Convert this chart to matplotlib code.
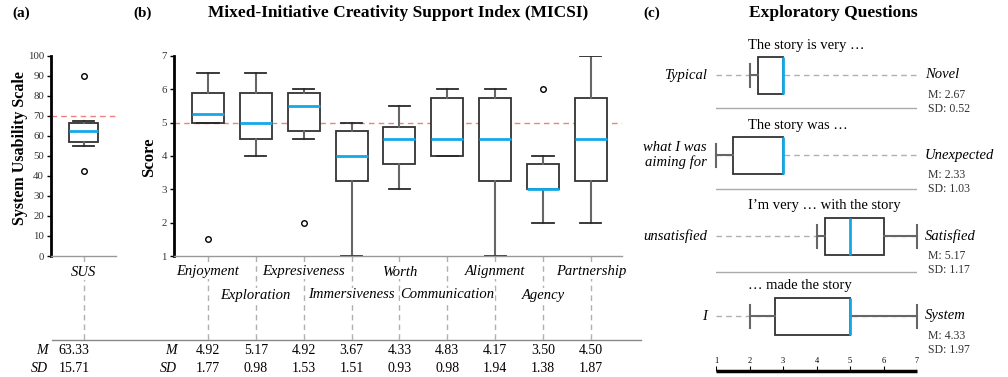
import matplotlib
matplotlib.use('Agg')
import matplotlib.pyplot as plt
from matplotlib.lines import Line2D

plt.rcParams['font.family'] = ['Liberation Serif', 'DejaVu Serif']

W, H = 1008, 377

# (a) System Usability Scale
sus_label = 'SUS'
sus_stats = dict(whislo=55, q1=57, med=62.5, q3=66.5, whishi=67.5, fliers=[90, 42.5])
sus_mean = '63.33'
sus_sd = '15.71'

# (b) MICSI
micsi_labels = ['Enjoyment', 'Exploration', 'Expresiveness', 'Immersiveness', 'Worth',
                'Communication', 'Alignment', 'Agency', 'Partnership']
micsi_whislo = [5.0, 4.0, 4.5, 1.0, 3.0, 4.0, 1.0, 2.0, 2.0]
micsi_q1 = [5.0, 4.5, 4.75, 3.25, 3.75, 4.0, 3.25, 3.0, 3.25]
micsi_med = [5.25, 5.0, 5.5, 4.0, 4.5, 4.5, 4.5, 3.0, 4.5]
micsi_q3 = [5.88, 5.88, 5.88, 4.75, 4.88, 5.75, 5.75, 3.75, 5.75]
micsi_whishi = [6.5, 6.5, 6.0, 5.0, 5.5, 6.0, 6.0, 4.0, 7.0]
micsi_fliers = [[1.5], [], [2.0], [], [], [], [], [6.0], []]
micsi_mean = ['4.92', '5.17', '4.92', '3.67', '4.33', '4.83', '4.17', '3.50', '4.50']
micsi_sd = ['1.77', '0.98', '1.53', '1.51', '0.93', '0.98', '1.94', '1.38', '1.87']

# (c) Exploratory questions
eq_prompts = ['The story is very \u2026', 'The story was \u2026',
              'I\u2019m very \u2026 with the story', '\u2026 made the story']
eq_left = ['Typical', 'what I was\naiming for', 'unsatisfied', 'I']
eq_right = ['Novel', 'Unexpected', 'Satisfied', 'System']
eq_whislo = [2, 1, 4, 2]
eq_q1 = [2.25, 1.5, 4.25, 2.75]
eq_med = [3, 3, 5, 5]
eq_q3 = [3, 3, 6, 5]
eq_whishi = [3, 3, 7, 7]
eq_mean = ['2.67', '2.33', '5.17', '4.33']
eq_sd = ['0.52', '1.03', '1.17', '1.97']

BOX_C = '#333333'
WHISK_C = '#666666'
MED_C = '#13a8e8'
DASH_C = '#b0b0b0'


def rect(l, t, r, b):
    return [l / W, 1 - b / H, (r - l) / W, (b - t) / H]


def fx(x):
    return x / W


def fy(y):
    return 1 - y / H


def box_kw():
    return dict(
        patch_artist=True,
        boxprops=dict(facecolor='white', edgecolor=BOX_C, linewidth=1.3),
        whiskerprops=dict(color=WHISK_C, linewidth=1.5),
        capprops=dict(color='#2a2a2a', linewidth=1.3),
        medianprops=dict(color=MED_C, linewidth=2),
        flierprops=dict(marker='o', markerfacecolor='none', markeredgecolor='black',
                        markersize=4, markeredgewidth=1),
    )


def style_axis(ax):
    for s in ['top', 'right']:
        ax.spines[s].set_visible(False)
    ax.spines['left'].set_linewidth(2)
    ax.spines['left'].set_color('black')
    ax.spines['bottom'].set_linewidth(1)
    ax.spines['bottom'].set_color('#999999')
    ax.tick_params(axis='y', labelsize=7.8, length=3, width=1, labelcolor='#333333', pad=2)
    ax.set_xticks([])


fig = plt.figure(figsize=(W / 100, H / 100), dpi=100)

# ---------- (a)
ax_a = fig.add_axes(rect(51, 56, 116, 256))
st = dict(sus_stats)
st['label'] = sus_label
ax_a.bxp([st], positions=[1], widths=0.44, capwidths=0.33, **box_kw())
ax_a.set_xlim(0.5, 1.5)
ax_a.set_ylim(0, 100)
ax_a.set_yticks(range(0, 101, 10))
style_axis(ax_a)
ax_a.axhline(70, color='#f08080', ls=(0, (4, 3)), lw=1, zorder=0)
tr = ax_a.get_xaxis_transform()
ax_a.plot([1, 1], [0, -0.42], transform=tr, clip_on=False, ls=(0, (4, 3)),
          color=DASH_C, lw=1, zorder=1)
ax_a.text(1, -0.08, sus_label, transform=tr, ha='center', va='center', style='italic',
          fontsize=10.5, bbox=dict(fc='white', ec='none', pad=1), zorder=3)
fig.text(fx(20), fy(148), 'System Usability Scale', rotation=90, ha='center', va='center',
         fontsize=11.5, fontweight='bold')
fig.text(fx(12), fy(13), '(a)', fontsize=11, fontweight='bold', ha='left', va='center')
fig.text(fx(48), fy(350), 'M', style='italic', fontsize=10, ha='right', va='center')
fig.text(fx(48), fy(368), 'SD', style='italic', fontsize=10, ha='right', va='center')
fig.text(fx(74), fy(350), sus_mean, fontsize=10, ha='center', va='center')
fig.text(fx(74), fy(368), sus_sd, fontsize=10, ha='center', va='center')

# ---------- (b)
ax_b = fig.add_axes(rect(174, 56, 622, 256))
stats_b = []
for i, lab in enumerate(micsi_labels):
    stats_b.append(dict(label=lab, whislo=micsi_whislo[i], q1=micsi_q1[i], med=micsi_med[i],
                        q3=micsi_q3[i], whishi=micsi_whishi[i], fliers=micsi_fliers[i]))
pos_b = list(range(len(micsi_labels)))
ax_b.bxp(stats_b, positions=pos_b, widths=0.67, capwidths=0.44, **box_kw())
ax_b.set_xlim(-0.71, 8.65)
ax_b.set_ylim(1, 7)
ax_b.set_yticks(range(1, 8))
style_axis(ax_b)
ax_b.axhline(5, color='#f08080', ls=(0, (4, 3)), lw=1, zorder=0)
tr = ax_b.get_xaxis_transform()
for i, lab in enumerate(micsi_labels):
    ax_b.plot([i, i], [0, -0.42], transform=tr, clip_on=False, ls=(0, (4, 3)),
              color=DASH_C, lw=1, zorder=1)
    yy = -0.08 if i % 2 == 0 else -0.195
    ax_b.text(i, yy, lab, transform=tr, ha='center', va='center', style='italic',
              fontsize=10.5, bbox=dict(fc='white', ec='none', pad=0.5), zorder=3)
    ax_b.text(i, -0.47, micsi_mean[i], transform=tr, ha='center', va='center', fontsize=10)
    ax_b.text(i, -0.56, micsi_sd[i], transform=tr, ha='center', va='center', fontsize=10)
fig.text(fx(149), fy(157), 'Score', rotation=90, ha='center', va='center',
         fontsize=12, fontweight='bold')
fig.text(fx(133), fy(13), '(b)', fontsize=11, fontweight='bold', ha='left', va='center')
fig.text(fx(398), fy(13), 'Mixed-Initiative Creativity Support Index (MICSI)', fontsize=12.5,
         fontweight='bold', ha='center', va='center')
fig.text(fx(177), fy(350), 'M', style='italic', fontsize=10, ha='right', va='center')
fig.text(fx(177), fy(368), 'SD', style='italic', fontsize=10, ha='right', va='center')

# table rule
fig.add_artist(Line2D([fx(52), fx(641)], [fy(340), fy(340)], color='#888888', lw=1))

# ---------- (c)
ax_c = fig.add_axes(rect(716, 30, 917, 375))
rows_y = [75, 155, 236, 316]
stats_c = []
for i in range(len(eq_prompts)):
    stats_c.append(dict(whislo=eq_whislo[i], q1=eq_q1[i], med=eq_med[i], q3=eq_q3[i],
                        whishi=eq_whishi[i], fliers=[]))
kw = box_kw()
kw['capprops'] = dict(color=WHISK_C, linewidth=1.5)
try:
    arts = ax_c.bxp(stats_c, positions=rows_y, widths=37, capwidths=23,
                    orientation='horizontal', manage_ticks=False, **kw)
except TypeError:
    arts = ax_c.bxp(stats_c, positions=rows_y, widths=37, capwidths=23,
                    vert=False, manage_ticks=False, **kw)
for k in arts:
    for a in arts[k]:
        a.set_zorder(2)
        a.set_clip_on(False)
ax_c.set_xlim(1, 7)
ax_c.set_ylim(375, 30)
ax_c.axis('off')
for i, y in enumerate(rows_y):
    ax_c.plot([1, 7], [y, y], ls=(0, (4, 3)), color=DASH_C, lw=1, zorder=0)
    ax_c.text(1.955, y - 30, eq_prompts[i], ha='left', va='center', fontsize=10.5)
    ax_c.text(0.73, y, eq_left[i], ha='right', va='center', style='italic', fontsize=10.5,
              linespacing=1.1)
    ax_c.text(7.24, y, eq_right[i], ha='left', va='center', style='italic', fontsize=10.5)
    ax_c.text(7.33, y + 20, 'M: ' + eq_mean[i], ha='left', va='center', fontsize=8.5,
              color='#333333')
    ax_c.text(7.33, y + 34, 'SD: ' + eq_sd[i], ha='left', va='center', fontsize=8.5,
              color='#333333')
for y in [108, 189, 272]:
    ax_c.plot([1, 7], [y, y], color='#aaaaaa', lw=1, zorder=0)
# bottom scale
ax_c.plot([1, 7], [371, 371], color='black', lw=2.5, solid_capstyle='butt', clip_on=False)
ax_c.vlines(range(1, 8), 366, 371, color='black', lw=0.8)
for v in range(1, 8):
    ax_c.text(v, 361, str(v), ha='center', va='center', fontsize=6)

fig.text(fx(643), fy(13), '(c)', fontsize=11, fontweight='bold', ha='left', va='center')
fig.text(fx(833), fy(13), 'Exploratory Questions', fontsize=12.5, fontweight='bold',
         ha='center', va='center')

fig.savefig('out.png', dpi=100)
